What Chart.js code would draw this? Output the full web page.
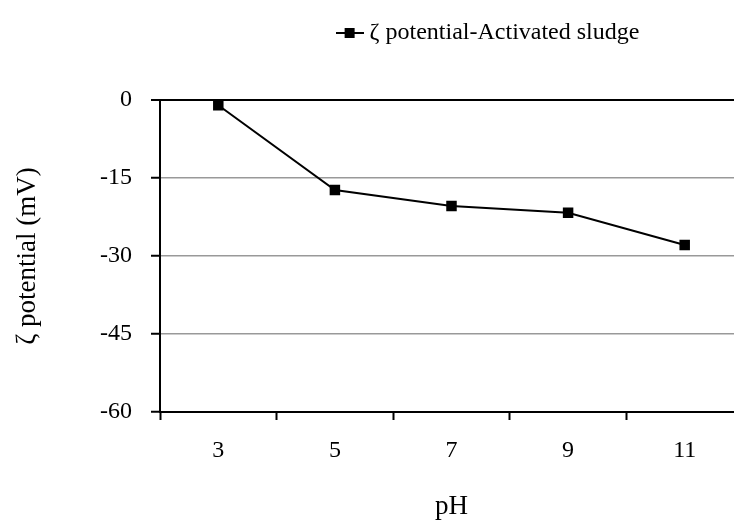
<!DOCTYPE html>
<html>
<head>
<meta charset="utf-8">
<script src="https://cdn.jsdelivr.net/npm/chart.js@4.4.0/dist/chart.umd.min.js"></script>
<style>
  body { margin: 0; background: #fff; }
  #wrap { width: 734px; height: 523px; overflow: hidden; position: relative; }
</style>
</head>
<body>
<div id="wrap"><canvas id="zeta" width="760" height="523"></canvas></div>
<script>
// chart data
const phLabels = ["3", "5", "7", "9", "11"];
const zetaValues = [-1, -17.3, -20.4, -21.7, -27.9];
const seriesName = "ζ potential-Activated sludge";
const yTicks = [0, -15, -30, -45, -60];

const FONT = "'Liberation Serif', 'Times New Roman', serif";

// legend marker: short line with a square on it
const legendMark = document.createElement("canvas");
legendMark.width = 28;
legendMark.height = 12;
const mctx = legendMark.getContext("2d");
mctx.strokeStyle = "#000";
mctx.lineWidth = 2;
mctx.beginPath();
mctx.moveTo(0, 6);
mctx.lineTo(28, 6);
mctx.stroke();
mctx.fillStyle = "#000";
mctx.fillRect(9, 1, 10, 10);

// move the legend so it sits where the original has it
const legendShift = {
  id: "legendShift",
  afterLayout(chart) {
    const lg = chart.legend;
    if (!lg) return;
    const dx = 119, dy = -45;
    lg.left += dx;
    lg.right += dx;
    lg.top += dy;
    lg.bottom += dy;
  }
};

new Chart(document.getElementById("zeta"), {
  type: "line",
  data: {
    labels: phLabels,
    datasets: [{
      label: seriesName,
      data: zetaValues,
      borderColor: "#000",
      borderWidth: 2,
      backgroundColor: "#000",
      pointStyle: "rect",
      pointRadius: 6,
      pointBorderColor: "#000",
      pointBackgroundColor: "#000",
      tension: 0
    }]
  },
  options: {
    responsive: false,
    animation: false,
    layout: { padding: { top: 0, right: 17, left: 0, bottom: 0 } },
    plugins: {
      legend: {
        display: true,
        position: "top",
        labels: {
          usePointStyle: true,
          pointStyle: legendMark,
          pointStyleWidth: 16,
          color: "#000",
          font: { family: FONT, size: 24 },
          padding: 66,
          generateLabels(chart) {
            return [{
              text: seriesName,
              pointStyle: legendMark,
              fillStyle: "#000",
              strokeStyle: "#000",
              lineWidth: 0,
              datasetIndex: 0,
              fontColor: "#000"
            }];
          }
        }
      },
      tooltip: { enabled: false }
    },
    scales: {
      x: {
        type: "category",
        offset: true,
        afterFit(scale) { scale.height = 111; },
        border: { display: true, color: "#000", width: 2 },
        grid: {
          offset: true,
          drawOnChartArea: false,
          drawTicks: true,
          tickLength: 8,
          tickColor: "#000",
          tickWidth: 2
        },
        ticks: {
          color: "#000",
          font: { family: FONT, size: 24 },
          padding: 16,
          maxRotation: 0
        },
        title: {
          display: true,
          text: "pH",
          color: "#000",
          font: { family: FONT, size: 27 },
          padding: { top: 0, bottom: 0 }
        }
      },
      y: {
        min: -60,
        max: 0,
        afterFit(scale) { scale.width = 160; },
        afterBuildTicks(scale) {
          scale.ticks = yTicks.map(v => ({ value: v }));
        },
        border: { display: true, color: "#000", width: 2 },
        grid: {
          color: ctx => (ctx.tick && (ctx.tick.value === 0 || ctx.tick.value === -60)) ? "#000" : "#999",
          lineWidth: ctx => (ctx.tick && ctx.tick.value === 0) ? 2 : 1.5,
          tickColor: "#000",
          tickLength: 9,
          tickWidth: 2
        },
        ticks: {
          color: "#000",
          font: { family: FONT, size: 24 },
          padding: 19
        },
        title: {
          display: true,
          text: "ζ potential (mV)",
          color: "#000",
          font: { family: FONT, size: 27 },
          padding: { top: 12, bottom: 0 }
        }
      }
    }
  },
  plugins: [legendShift]
});
</script>
</body>
</html>
